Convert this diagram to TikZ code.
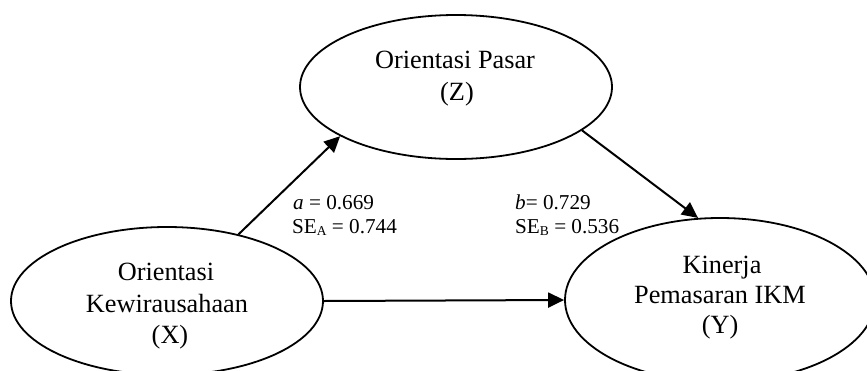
\documentclass[tikz,border=0pt]{standalone}
\usepackage{fontspec}
\setmainfont{Liberation Serif}
\usetikzlibrary{shapes.geometric,arrows.meta}

% subscript letter for the standard-error labels
\newcommand{\selbl}[1]{\raisebox{-2.5pt}{\fontsize{13.5}{13.5}\selectfont #1}}

\tikzset{
  oval/.style={draw, ellipse, line width=1.8pt, inner sep=0pt},
  vartext/.style={anchor=base, inner sep=0pt, font=\fontsize{26.3}{31}\selectfont},
  coef/.style={anchor=base west, inner sep=0pt, font=\fontsize{21.2}{24}\selectfont},
  path/.style={line width=2pt, -{Triangle[length=16pt, width=15pt]}}
}

\begin{document}
\begin{tikzpicture}[x=1pt, y=-1pt]
  \useasboundingbox (0,0) rectangle (867,370);

  % latent variables
  \node[oval, minimum width=312pt, minimum height=144pt] (Z) at (456,87) {};
  \node[oval, minimum width=312pt, minimum height=148pt] (X) at (167,301) {};
  \node[oval, minimum width=310pt, minimum height=164pt] (Y) at (720,300) {};

  % variable names
  \node[vartext] (Z1) at (455,68) {Orientasi Pasar};
  \node[vartext] (Z2) at (457,100) {(Z)};
  \node[vartext] (X1) at (166,280) {Orientasi};
  \node[vartext] (X2) at (167,312) {Kewirausahaan};
  \node[vartext] (X3) at (170,343) {(X)};
  \node[vartext] (Y1) at (722,273) {Kinerja};
  \node[vartext] (Y2) at (720,303) {Pemasaran IKM};
  \node[vartext] (Y3) at (720,333) {(Y)};

  % paths
  \draw[path] (X.43) -- (Z.203);
  \draw[path] (Z.-19) -- (Y.105);
  \draw[path] (X.0) -- (Y.180);

  % path coefficients
  \node[coef] (a1) at (293,209) {\textit{a} = 0.669};
  \node[coef] (a2) at (292,233) {SE\selbl{A} = 0.744};
  \node[coef] (b1) at (515,209) {\textit{b}= 0.729};
  \node[coef] (b2) at (515,233) {SE\selbl{B} = 0.536};
\end{tikzpicture}
\end{document}
